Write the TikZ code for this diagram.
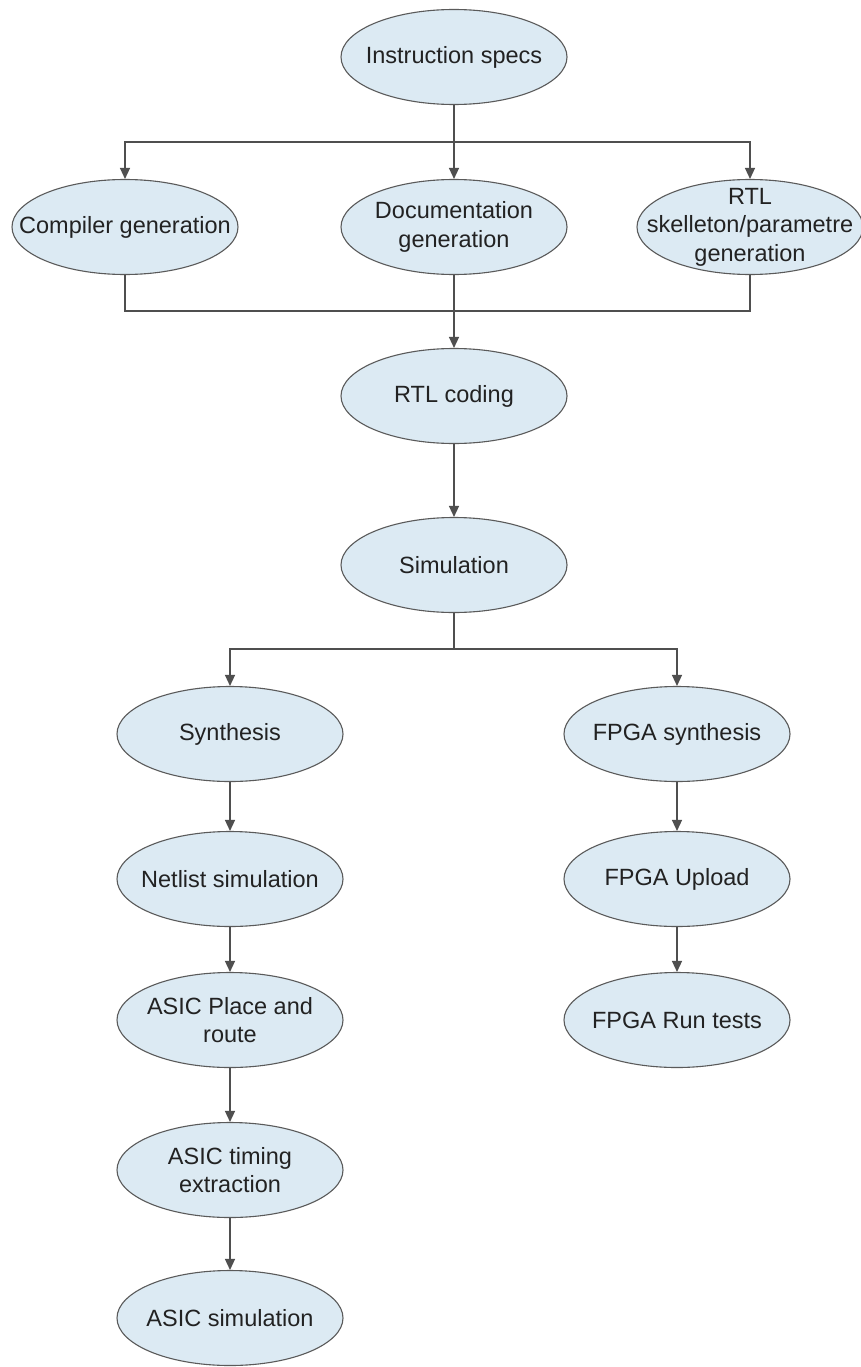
\documentclass[tikz,border=0pt]{standalone}
\usepackage{fontspec}
\setmainfont{Liberation Sans}
\usetikzlibrary{shapes.geometric,arrows.meta}
\definecolor{ellfill}{HTML}{DCEAF3}
\definecolor{elldraw}{HTML}{5A5A5A}
\definecolor{linecol}{HTML}{4F4F4F}
\definecolor{txtcol}{HTML}{222222}
\tikzset{
  ell/.style={ellipse, draw=elldraw, line width=1.1pt, fill=ellfill,
    minimum width=226pt, minimum height=95pt, inner sep=0pt},
  lbl/.style={text=txtcol, align=center, inner sep=0pt,
    font=\fontsize{23.5pt}{28.5pt}\selectfont},
  conn/.style={draw=linecol, line width=1.3pt},
  arr/.style={conn, -{Triangle[length=11pt, width=10pt]}},
}
\begin{document}
\begin{tikzpicture}[x=1pt, y=-1pt]
\useasboundingbox (0,0) rectangle (860,1367);
\fill[white] (0,0) rectangle (860,1367);

\node[ell] (inst) at (454,57) {};
\node[ell] (comp) at (125,227) {};
\node[ell] (doc) at (454,227) {};
\node[ell] (rtlp) at (750,227) {};
\node[ell] (code) at (454,396) {};
\node[ell] (sim) at (454,565) {};
\node[ell] (syn) at (230,734) {};
\node[ell] (fsyn) at (677,734) {};
\node[ell] (net) at (230,879) {};
\node[ell] (fup) at (677,879) {};
\node[ell] (place) at (230,1020) {};
\node[ell] (frun) at (677,1020) {};
\node[ell] (timing) at (230,1170) {};
\node[ell] (asim) at (230,1318) {};

\node[lbl] (tinst) at (inst) {Instruction specs};
\node[lbl] (tcomp) at (comp) {Compiler generation};
\node[lbl] (tdoc) at (doc) {Documentation\\generation};
\node[lbl] (trtlp) at (rtlp) {RTL\\skelleton/parametre\\generation};
\node[lbl] (tcode) at (code) {RTL coding};
\node[lbl] (tsim) at (sim) {Simulation};
\node[lbl] (tsyn) at (syn) {Synthesis};
\node[lbl] (tfsyn) at (fsyn) {FPGA synthesis};
\node[lbl] (tnet) at (net) {Netlist simulation};
\node[lbl] (tfup) at (fup) {FPGA Upload};
\node[lbl] (tplace) at (place) {ASIC Place and\\route};
\node[lbl] (tfrun) at (frun) {FPGA Run tests};
\node[lbl] (ttiming) at (timing) {ASIC timing\\extraction};
\node[lbl] (tasim) at (asim) {ASIC simulation};

\coordinate (j1) at (454,142);
\coordinate (j2) at (454,311);
\coordinate (j3) at (454,649);

\draw[arr] (inst.south) -- (doc.north);
\draw[arr] (inst.south) -- (j1) -| (comp.north);
\draw[arr] (inst.south) -- (j1) -| (rtlp.north);

\draw[conn] (comp.south) |- (j2);
\draw[conn] (rtlp.south) |- (j2);
\draw[arr] (doc.south) -- (code.north);

\draw[arr] (code.south) -- (sim.north);

\draw[arr] (sim.south) -- (j3) -| (syn.north);
\draw[arr] (sim.south) -- (j3) -| (fsyn.north);

\draw[arr] (syn.south) -- (net.north);
\draw[arr] (net.south) -- (place.north);
\draw[arr] (place.south) -- (timing.north);
\draw[arr] (timing.south) -- (asim.north);

\draw[arr] (fsyn.south) -- (fup.north);
\draw[arr] (fup.south) -- (frun.north);
\end{tikzpicture}
\end{document}
